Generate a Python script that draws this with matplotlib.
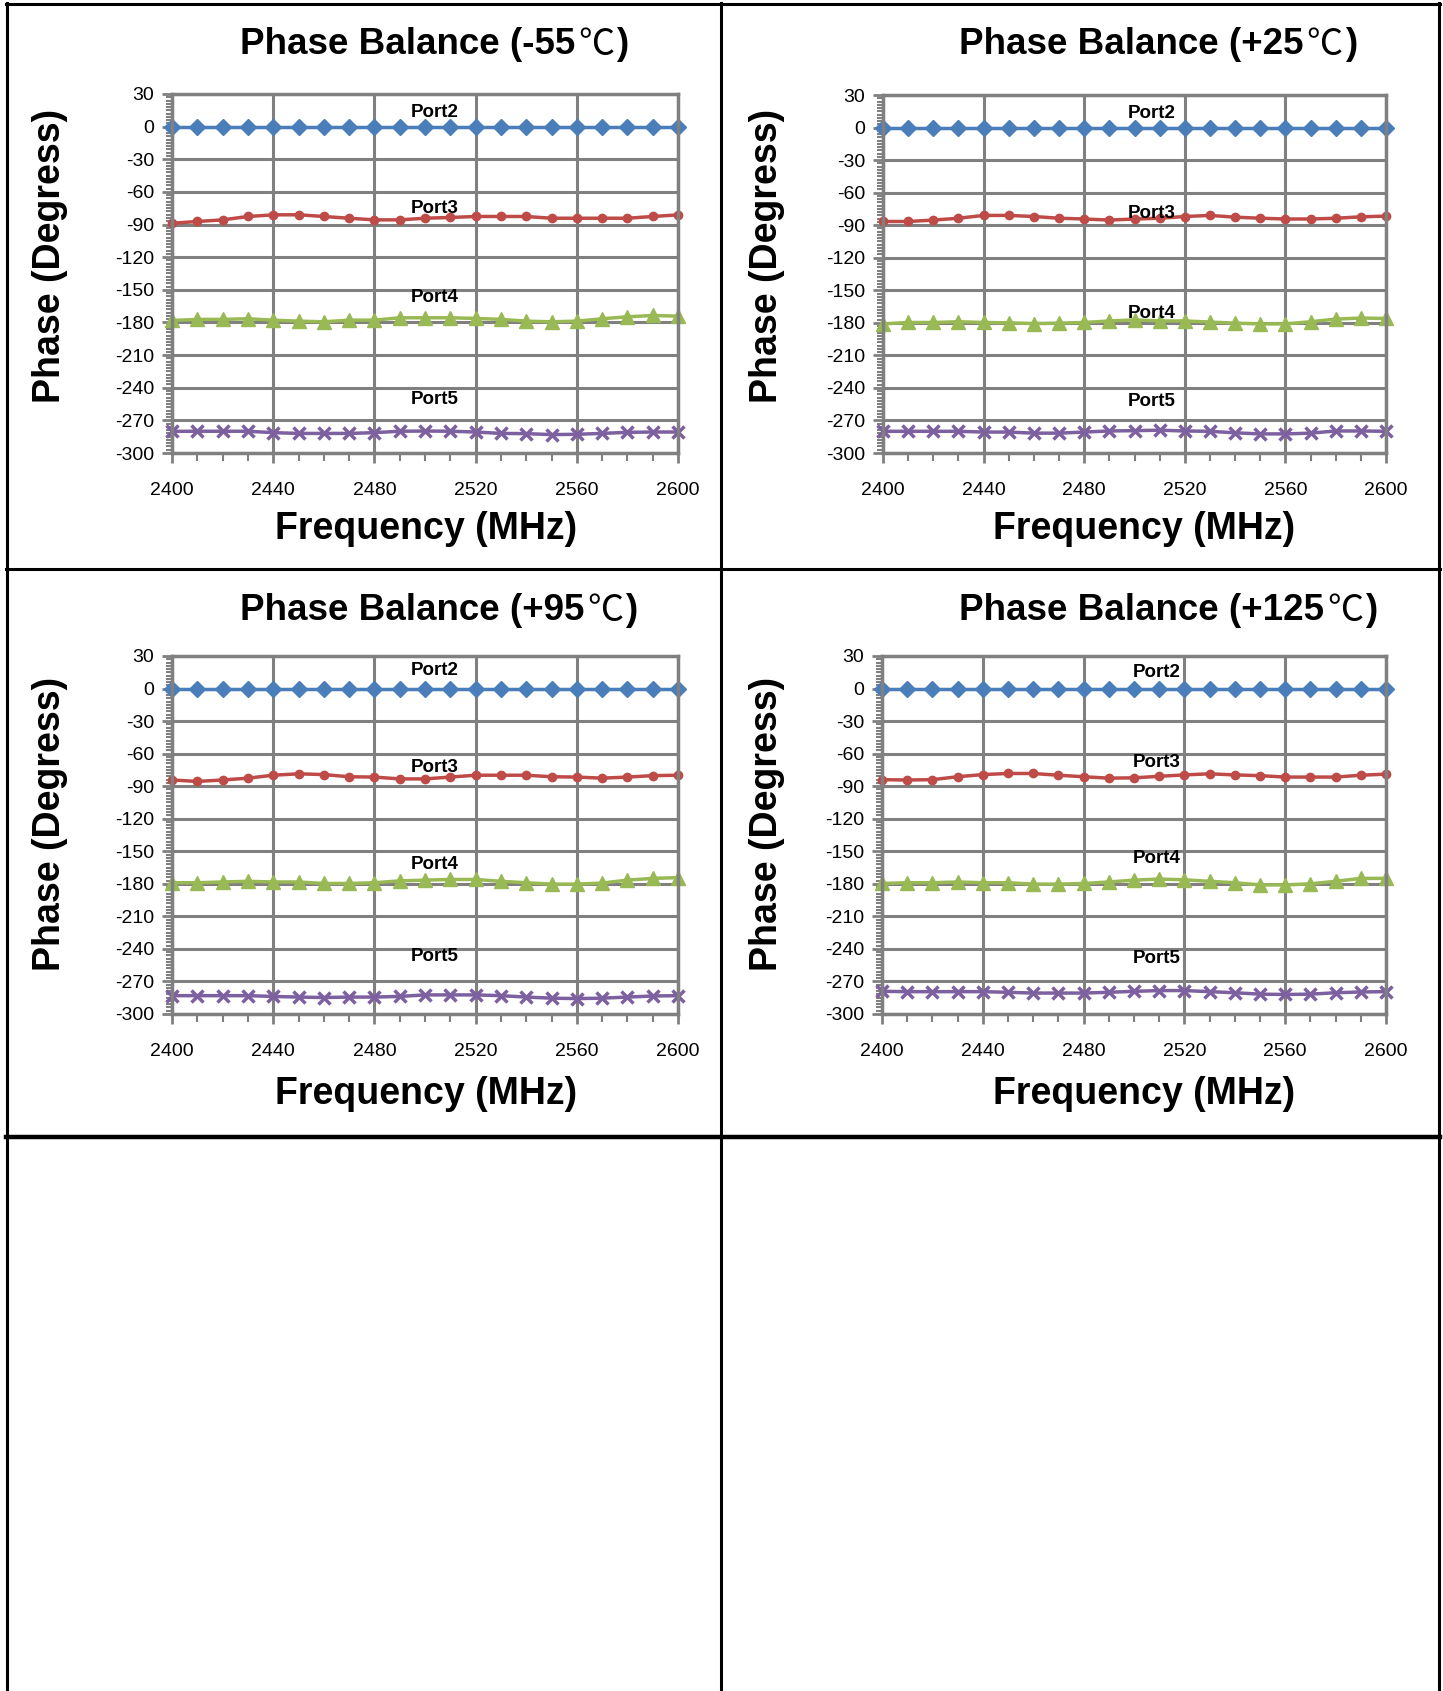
import numpy as np
import matplotlib
matplotlib.use("Agg")
import matplotlib.pyplot as plt
from matplotlib.lines import Line2D
from matplotlib.ticker import MultipleLocator

plt.rcParams['font.family'] = ['Liberation Sans', 'Noto Sans CJK SC', 'DejaVu Sans']
plt.rcParams['axes.unicode_minus'] = False

freq = np.arange(2400, 2601, 10)

temps = ['-55', '+25', '+95', '+125']

port2 = [0.0] * 21

port3_m55 = [-88.8, -87.2, -85.7, -82.6, -81.1, -81.0, -82.6, -84.2, -85.7, -85.7, -84.2,
             -83.5, -82.6, -82.6, -82.6, -84.2, -84.2, -84.2, -84.2, -82.6, -81.1]
port4_m55 = [-178.2, -177.2, -177.2, -176.6, -177.9, -178.8, -179.4, -177.9, -177.9, -175.7, -175.7,
             -175.7, -176.3, -177.2, -178.8, -179.4, -178.8, -176.6, -174.8, -173.6, -174.2]
port5_m55 = [-280.1, -280.0, -280.0, -280.0, -281.3, -282.0, -282.0, -282.0, -281.3, -280.0, -279.8,
             -280.0, -280.7, -282.0, -282.2, -283.1, -282.8, -282.0, -281.0, -280.7, -280.7]

port3_p25 = [-86.6, -86.6, -85.3, -83.6, -81.0, -81.0, -82.0, -83.6, -84.3, -85.3, -84.3,
             -83.6, -82.0, -81.0, -82.6, -83.6, -84.3, -84.3, -83.6, -82.3, -81.6]
port4_p25 = [-181.0, -179.7, -179.7, -179.0, -179.7, -180.0, -180.7, -180.3, -179.7, -178.3, -177.3,
             -178.3, -178.3, -179.3, -180.3, -181.0, -181.0, -179.0, -176.6, -175.6, -176.0]
port5_p25 = [-280.0, -280.0, -280.0, -280.0, -280.7, -280.7, -281.7, -281.7, -280.7, -279.7, -279.4,
             -279.0, -279.7, -280.0, -281.4, -282.4, -282.4, -281.7, -279.7, -279.7, -280.0]

port3_p95 = [-84.3, -85.6, -84.3, -82.6, -79.9, -78.6, -79.3, -81.3, -81.6, -83.3, -83.3,
             -81.6, -79.9, -79.9, -79.9, -81.3, -81.6, -82.6, -81.6, -80.3, -79.9]
port4_p95 = [-179.0, -179.0, -178.3, -177.7, -178.3, -178.3, -179.7, -179.7, -179.0, -177.3, -176.6,
             -176.0, -176.0, -177.7, -179.0, -180.3, -180.3, -179.3, -176.6, -175.0, -174.3]
port5_p95 = [-283.1, -283.1, -283.1, -283.1, -283.8, -284.4, -284.8, -284.4, -284.4, -283.8, -282.4,
             -282.4, -282.4, -283.1, -284.4, -285.4, -285.8, -285.4, -284.4, -283.4, -283.1]

port3_p125 = [-84.0, -84.3, -84.0, -81.3, -79.3, -78.3, -78.3, -79.9, -81.3, -82.6, -82.3,
              -80.9, -79.6, -78.6, -79.6, -80.3, -81.6, -81.6, -81.6, -79.9, -78.9]
port4_p125 = [-179.7, -179.0, -179.0, -178.3, -179.0, -179.0, -180.3, -180.3, -179.7, -178.3, -176.6,
              -175.6, -176.3, -177.7, -179.0, -181.0, -181.0, -180.0, -177.7, -175.0, -175.0]
port5_p125 = [-279.1, -279.4, -279.4, -279.4, -279.4, -280.0, -280.7, -280.7, -280.7, -280.0, -279.1,
              -278.4, -278.4, -279.4, -280.4, -281.7, -282.0, -281.7, -280.4, -279.7, -279.4]

port3 = [port3_m55, port3_p25, port3_p95, port3_p125]
port4 = [port4_m55, port4_p25, port4_p95, port4_p125]
port5 = [port5_m55, port5_p25, port5_p95, port5_p125]

# label positions (x, y) for Port2..Port5 in each panel
label_y = [[13, -75, -157, -251], [13, -79, -171.5, -252.6],
           [17, -73, -162, -247], [15, -68, -157, -249]]
label_x = [2504, 2507, 2504, 2509]

W, H = 1443, 1691
fig = plt.figure(figsize=(W / 100, H / 100), dpi=100)

# pixel boxes: left, right, top, bottom
boxes = [(172, 678, 94, 453), (883, 1386, 95, 453),
         (172, 678, 656, 1014), (882, 1386, 656, 1014)]
title_pos = [(240, 45), (959, 45), (240, 611), (959, 611)]
ylab_pos = [(50, 256), (767, 256), (50, 824), (767, 824)]
xlab_pos = [(426, 529), (1144, 529), (426, 1094), (1144, 1094)]

grid_c = '#808080'
colors = ['#4a7ebb', '#be4b48', '#98b954', '#7d60a0']

title_parts = []
for i in range(4):
    l, r, t, b = boxes[i]
    ax = fig.add_axes([l / W, 1 - b / H, (r - l) / W, (b - t) / H])
    ax.plot(freq, port2, color=colors[0], marker='D', ms=8.5, lw=2.5, clip_on=False)
    ax.plot(freq, port3[i], color=colors[1], marker='o', ms=6, lw=2.5, clip_on=False)
    ax.plot(freq, port4[i], color=colors[2], marker='^', ms=10.5, lw=2.5, clip_on=False)
    ax.plot(freq, port5[i], color=colors[3], marker='x', ms=9, mew=2.5, lw=2.5, clip_on=False)
    for k, name in enumerate(['Port2', 'Port3', 'Port4', 'Port5']):
        ax.text(label_x[i], label_y[i][k], name, ha='center', va='center',
                fontsize=13.5, fontweight='bold')
    ax.set_xlim(2400, 2600)
    ax.set_ylim(-300, 30)
    ax.xaxis.set_major_locator(MultipleLocator(40))
    ax.xaxis.set_minor_locator(MultipleLocator(10))
    ax.yaxis.set_major_locator(MultipleLocator(30))
    ax.yaxis.set_minor_locator(MultipleLocator(3))
    ax.grid(True, which='major', color=grid_c, lw=2.2)
    ax.set_axisbelow(True)
    for s in ax.spines.values():
        s.set_color(grid_c)
        s.set_linewidth(2.5)
    ax.tick_params(which='major', direction='out', length=7, width=2, color=grid_c,
                   labelsize=14, pad=6)
    ax.tick_params(which='minor', direction='out', length=4, width=1.5, color=grid_c)
    ax.tick_params(axis='x', which='major', pad=14)
    ax.tick_params(axis='x', which='minor', length=6)

    # title in pieces so the degree sign uses the CJK glyph
    t1 = fig.text(title_pos[i][0] / W, 1 - title_pos[i][1] / H, 'Phase Balance (' + temps[i],
                  ha='left', va='center', fontsize=26.5, fontweight='bold')
    title_parts.append(t1)
    fig.text(ylab_pos[i][0] / W, 1 - ylab_pos[i][1] / H, 'Phase (Degress)', rotation=90,
             ha='center', va='center', fontsize=27, fontweight='bold')
    fig.text(xlab_pos[i][0] / W, 1 - xlab_pos[i][1] / H, 'Frequency (MHz)', ha='center',
             va='center', fontsize=27, fontweight='bold')

renderer = fig.canvas.get_renderer()
for i, t1 in enumerate(title_parts):
    bb = t1.get_window_extent(renderer)
    y = 1 - title_pos[i][1] / H
    t2 = fig.text((bb.x1 + 3) / W, y, '\u2103', ha='left', va='center', fontsize=26,
                  family='Noto Sans CJK SC')
    bb2 = t2.get_window_extent(renderer)
    fig.text((bb2.x1 + 2) / W, y, ')', ha='left', va='center', fontsize=26.5, fontweight='bold')

# page frame lines
def hline(y, x0, x1, lw):
    fig.add_artist(Line2D([x0 / W, x1 / W], [1 - y / H, 1 - y / H], color='black', lw=lw))

def vline(x, y0, y1, lw):
    fig.add_artist(Line2D([x / W, x / W], [1 - y0 / H, 1 - y1 / H], color='black', lw=lw))

hline(4, 6, 1440, 2.2)
hline(569, 6, 1440, 2.2)
hline(1137, 6, 1440, 3.2)
vline(7, 3, H, 2.2)
vline(721, 3, H, 2.2)
vline(1439, 3, H, 2.2)

fig.savefig('out.png', dpi=100)
